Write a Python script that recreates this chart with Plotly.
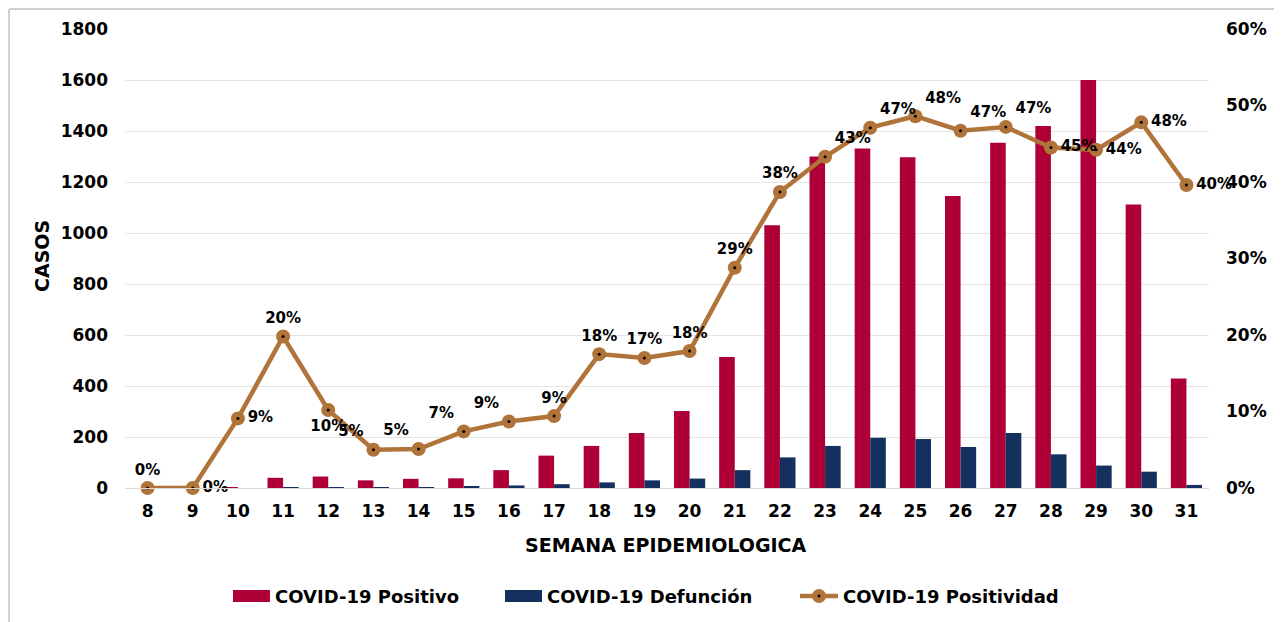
import plotly.graph_objects as go

semanas = ["8", "9", "10", "11", "12", "13", "14", "15", "16", "17", "18", "19",
           "20", "21", "22", "23", "24", "25", "26", "27", "28", "29", "30", "31"]
positivo = [0, 0, 2, 40, 45, 30, 36, 38, 70, 127, 165, 216,
            302, 514, 1030, 1300, 1331, 1297, 1145, 1354, 1420, 1600, 1112, 429]
defuncion = [0, 0, 0, 3, 3, 3, 3, 5, 10, 15, 22, 30,
             37, 70, 120, 165, 197, 192, 161, 216, 132, 88, 64, 12]
positividad = [0.0, 0.0, 9.1, 19.8, 10.2, 5.0, 5.1, 7.4, 8.7, 9.4, 17.5, 17.0,
               17.9, 28.8, 38.7, 43.3, 47.1, 48.6, 46.7, 47.2, 44.5, 44.2, 47.8, 39.6]
etiquetas = ["0%", "0%", "9%", "20%", "10%", "5%", "5%", "7%", "9%", "9%", "18%", "17%",
             "18%", "29%", "38%", "43%", "47%", "48%", "47%", "47%", "45%", "44%", "48%", "40%"]
posiciones = ["top center", "middle right", "middle right", "top center", "bottom center",
              "top left", "top left", "top left", "top left", "top center", "top center",
              "top center", "top center", "top center", "top center", "top right",
              "top right", "top right", "top right", "top right", "middle right",
              "middle right", "middle right", "middle right"]
series_nombres = ["COVID-19 Positivo", "COVID-19 Defunción", "COVID-19 Positividad"]

RED = "#AE0036"
BLUE = "#14305F"
BROWN = "#B0743A"
FONT = "DejaVu Sans"

# page offset (browser body margin) and target plot-area geometry in page pixels
OFF = 8
L, R, T, B = 125, 1209, 29, 488
W, H = 1282 - OFF, 622 - OFF


def px(x):
    return (x - L) / (R - L)


def py(y):
    return (B - y) / (B - T)


fig = go.Figure()
fig.add_trace(go.Bar(x=semanas, y=positivo, name=series_nombres[0],
                     marker=dict(color=RED, line=dict(width=0))))
fig.add_trace(go.Bar(x=semanas, y=defuncion, name=series_nombres[1],
                     marker=dict(color=BLUE, line=dict(width=0))))
fig.add_trace(go.Scatter(x=semanas, y=[v / 100 for v in positividad], yaxis="y2",
                         name=series_nombres[2], mode="lines+markers+text",
                         line=dict(color=BROWN, width=4.5),
                         marker=dict(color=BROWN, size=14),
                         text=etiquetas, textposition=posiciones,
                         textfont=dict(family=FONT, size=15, color="black", weight="bold"),
                         cliponaxis=False))
fig.add_trace(go.Scatter(x=semanas, y=[v / 100 for v in positividad], yaxis="y2",
                         mode="markers", marker=dict(color="black", size=3),
                         showlegend=False, hoverinfo="skip", cliponaxis=False))

tickfont = dict(family=FONT, size=17, color="black", weight="bold")

annotations = [
    dict(text="SEMANA EPIDEMIOLOGICA", xref="paper", yref="paper", x=px(666), y=py(545),
         xanchor="center", yanchor="middle", showarrow=False,
         font=dict(family=FONT, size=19, color="black", weight="bold")),
    dict(text="CASOS", xref="paper", yref="paper", x=px(42), y=py(256),
         xanchor="center", yanchor="middle", showarrow=False, textangle=-90,
         font=dict(family=FONT, size=19, color="black", weight="bold")),
]

# custom legend
legend_y = 596
legend_font = dict(family=FONT, size=18, color="black", weight="bold")
shapes = [
    dict(type="line", xref="paper", yref="paper", x0=px(9), x1=px(1290), y0=py(9), y1=py(9),
         line=dict(color="#d0d0d0", width=2)),
    dict(type="line", xref="paper", yref="paper", x0=px(9), x1=px(9), y0=py(9), y1=py(630),
         line=dict(color="#d0d0d0", width=2)),
    dict(type="rect", xref="paper", yref="paper", x0=px(233), x1=px(270),
         y0=py(legend_y + 6), y1=py(legend_y - 6), fillcolor=RED, line=dict(width=0)),
    dict(type="rect", xref="paper", yref="paper", x0=px(505), x1=px(542),
         y0=py(legend_y + 6), y1=py(legend_y - 6), fillcolor=BLUE, line=dict(width=0)),
    dict(type="line", xref="paper", yref="paper", x0=px(800), x1=px(838),
         y0=py(legend_y), y1=py(legend_y), line=dict(color=BROWN, width=4.5)),
    dict(type="circle", xref="paper", yref="paper", x0=px(812), x1=px(826),
         y0=py(legend_y + 7), y1=py(legend_y - 7), fillcolor=BROWN, line=dict(width=0)),
    dict(type="circle", xref="paper", yref="paper", x0=px(817.5), x1=px(820.5),
         y0=py(legend_y + 1.5), y1=py(legend_y - 1.5), fillcolor="black", line=dict(width=0)),
]
for nombre, xs in zip(series_nombres, [273, 545, 841]):
    annotations.append(dict(text=nombre, xref="paper", yref="paper", x=px(xs), y=py(legend_y),
                            xanchor="left", yanchor="middle", showarrow=False,
                            font=legend_font))

fig.update_layout(
    width=W, height=H,
    margin=dict(l=L - OFF, r=W - (R - OFF), t=T - OFF, b=H - (B - OFF), autoexpand=False),
    paper_bgcolor="white", plot_bgcolor="white",
    barmode="group", bargap=0.31, bargroupgap=0,
    showlegend=False,
    font=dict(family=FONT, color="black"),
    xaxis=dict(type="category", range=[-0.5, len(semanas) - 0.5], autorange=False,
               showgrid=False, showline=True, linecolor="#d9d9d9",
               linewidth=1, ticks="", tickfont=tickfont, ticklabelstandoff=8,
               automargin=False),
    yaxis=dict(range=[0, 1800], dtick=200, showgrid=True, gridcolor="#e4e4e4",
               gridwidth=1, zeroline=False, showline=False, ticks="",
               tickfont=tickfont, ticklabelstandoff=16, automargin=False),
    yaxis2=dict(range=[0, 0.6], dtick=0.1, tickformat=".0%", overlaying="y", side="right",
                showgrid=False, zeroline=False, ticks="",
                tickfont=tickfont, ticklabelstandoff=16, automargin=False),
    annotations=annotations,
    shapes=shapes,
)

fig.write_html("out.html")
